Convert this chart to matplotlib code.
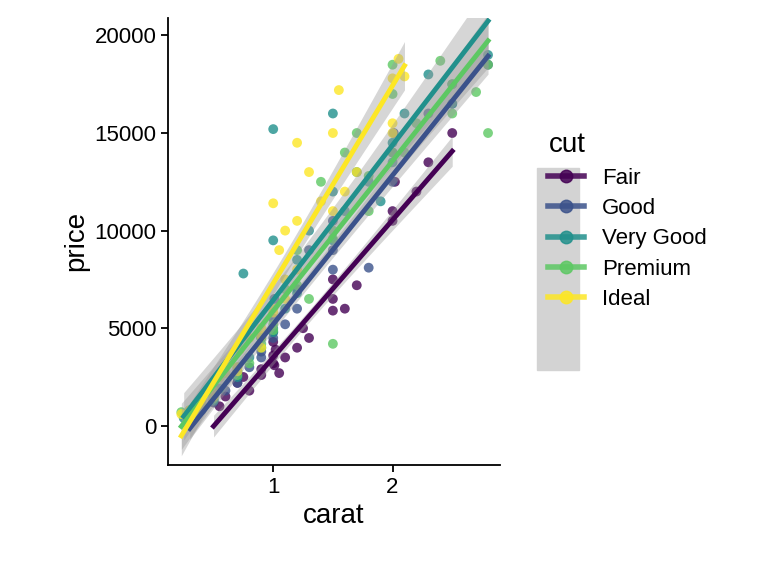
import matplotlib.pyplot as plt
import numpy as np
from matplotlib.lines import Line2D
from matplotlib.patches import Rectangle

plt.rcParams['font.family'] = ['Liberation Sans', 'DejaVu Sans']

cuts = ["Fair", "Good", "Very Good", "Premium", "Ideal"]
colors = ["#440154", "#3B528B", "#21908C", "#5DC863", "#FDE725"]

fair_carat = [0.7, 0.9, 1.0, 1.0, 1.01, 1.1, 1.2, 1.5, 1.5, 1.6, 1.7, 2.0, 2.02, 2.5, 0.9, 1.05, 1.25, 0.75, 1.3, 2.2, 0.5,
              0.55, 0.6, 0.8, 1.0, 1.02, 1.5, 2.0, 2.3]
fair_price = [2200, 2900, 3600, 4300, 3100, 3500, 4000, 5900, 6500, 6000, 7200, 11000, 12500, 15000, 2600, 2700, 5000, 2500, 4500, 12000, 1200,
              1000, 1500, 1800, 3200, 3900, 7500, 10500, 13500]
good_carat = [0.3, 0.4, 0.5, 0.7, 0.9, 1.0, 1.0, 1.1, 1.2, 1.5, 1.5, 1.8, 2.0, 2.01, 2.3, 0.33, 0.6, 1.01, 1.3, 0.8,
              0.3, 0.35, 0.4, 0.5, 0.7, 0.9, 1.0, 1.2, 1.5, 2.0, 2.5, 2.8]
good_price = [600, 900, 1200, 2500, 3800, 4500, 5500, 5200, 7000, 8000, 10500, 8100, 14000, 15000, 16000, 700, 1800, 6500, 9000, 3000,
              500, 650, 800, 1300, 2200, 3500, 4800, 6000, 9000, 12500, 16500, 18500]
vg_carat = [0.25, 0.3, 0.4, 0.5, 0.7, 0.9, 1.0, 1.0, 1.0, 1.1, 1.2, 1.5, 1.5, 1.6, 1.7, 2.0, 2.1, 2.3, 2.5, 0.8, 0.75, 1.3, 1.9, 0.55,
            0.3, 0.35, 0.4, 0.5, 0.7, 0.9, 1.0, 1.2, 1.5, 1.8, 2.0, 2.5, 2.8]
vg_price = [400, 600, 1000, 1500, 2800, 4500, 5000, 9500, 15200, 6000, 8500, 12000, 16000, 11000, 13000, 14500, 16000, 18000, 17500, 3500, 7800, 10000, 11500, 1900,
            550, 700, 900, 1300, 2500, 4000, 4800, 6800, 9500, 12500, 13500, 16500, 19000]
prem_carat = [0.23, 0.3, 0.4, 0.5, 0.7, 0.9, 1.0, 1.1, 1.2, 1.5, 1.5, 1.6, 1.7, 2.0, 2.0, 2.2, 2.4, 2.7, 2.8, 2.5, 1.8, 0.8, 1.3, 2.1, 1.4,
              0.3, 0.35, 0.4, 0.5, 0.7, 0.9, 1.0, 1.2, 1.5, 1.8, 2.0, 2.5, 2.8]
prem_price = [700, 800, 1100, 1600, 3000, 4500, 5200, 7000, 9000, 4200, 10000, 14000, 15000, 17000, 18500, 15500, 18700, 17100, 15000, 16000, 11000, 3200, 6500, 14000, 12500,
              500, 650, 900, 1400, 2600, 4200, 4900, 7200, 9600, 12800, 14000, 17500, 18500]
ideal_carat = [0.23, 0.3, 0.35, 0.4, 0.5, 0.55, 0.7, 0.72, 0.8, 0.9, 1.0, 1.0, 1.05, 1.1, 1.2, 1.2, 1.3, 1.5, 1.55, 1.6, 2.0, 2.05, 2.1, 2.0, 1.1, 0.6, 1.4, 0.9,
               0.3, 0.33, 0.4, 0.5, 0.7, 0.9, 1.0, 1.1, 1.2, 1.5, 1.7, 2.0]
ideal_price = [600, 800, 1000, 1300, 1800, 2500, 3000, 3900, 4500, 5000, 6000, 11400, 9000, 7500, 10500, 14500, 13000, 15000, 17200, 12000, 17800, 18800, 17900, 15500, 10000, 2700, 11500, 4000,
               650, 750, 1000, 1500, 2800, 4600, 5800, 6500, 8000, 11000, 13000, 15000]

data = [(fair_carat, fair_price), (good_carat, good_price), (vg_carat, vg_price),
        (prem_carat, prem_price), (ideal_carat, ideal_price)]

fig = plt.figure(figsize=(7.68, 5.76), dpi=100)
ax = fig.add_axes([0.219, 0.193, 0.432, 0.776])

for (x, y), c in zip(data, colors):
    ax.scatter(x, y, s=50, color=c, alpha=0.8, edgecolors='none', zorder=2)

for (x, y), c in zip(data, colors):
    x = np.array(x); y = np.array(y)
    b, a = np.polyfit(x, y, 1)
    xs = np.linspace(x.min(), x.max(), 80)
    ys = a + b * xs
    n = len(x)
    resid = y - (a + b * x)
    s = np.sqrt(np.sum(resid ** 2) / (n - 2))
    se = s * np.sqrt(1 / n + (xs - x.mean()) ** 2 / np.sum((x - x.mean()) ** 2))
    ax.fill_between(xs, ys - 1.96 * se, ys + 1.96 * se, color='#999999', alpha=0.4, lw=0, zorder=3)
    ax.plot(xs, ys, color=c, lw=3.5, zorder=4)

ax.set_xlim(0.12, 2.9)
ax.set_ylim(-2000, 20900)
ax.set_xticks([1, 2])
ax.set_yticks([0, 5000, 10000, 15000, 20000])
ax.tick_params(labelsize=16, width=1.3, length=5, colors='black')
ax.set_xlabel("carat", fontsize=20)
ax.set_ylabel("price", fontsize=20)
for sp in ['top', 'right']:
    ax.spines[sp].set_visible(False)
for sp in ['left', 'bottom']:
    ax.spines[sp].set_linewidth(1.3)

fig.patches.append(Rectangle((537 / 768, 1 - 370 / 576), 42 / 768, 202 / 576,
                             transform=fig.transFigure, color='#D3D3D3', zorder=0))
handles = [Line2D([], [], color=c, lw=4, marker='o', markersize=9, alpha=0.85) for c in colors]
leg = fig.legend(handles, cuts, title="cut", loc='upper left', bbox_to_anchor=(0.688, 0.805),
                 frameon=False, fontsize=16, title_fontsize=20, handlelength=1.6,
                 labelspacing=0.42, alignment='left')

fig.savefig("out.png", dpi=100)
